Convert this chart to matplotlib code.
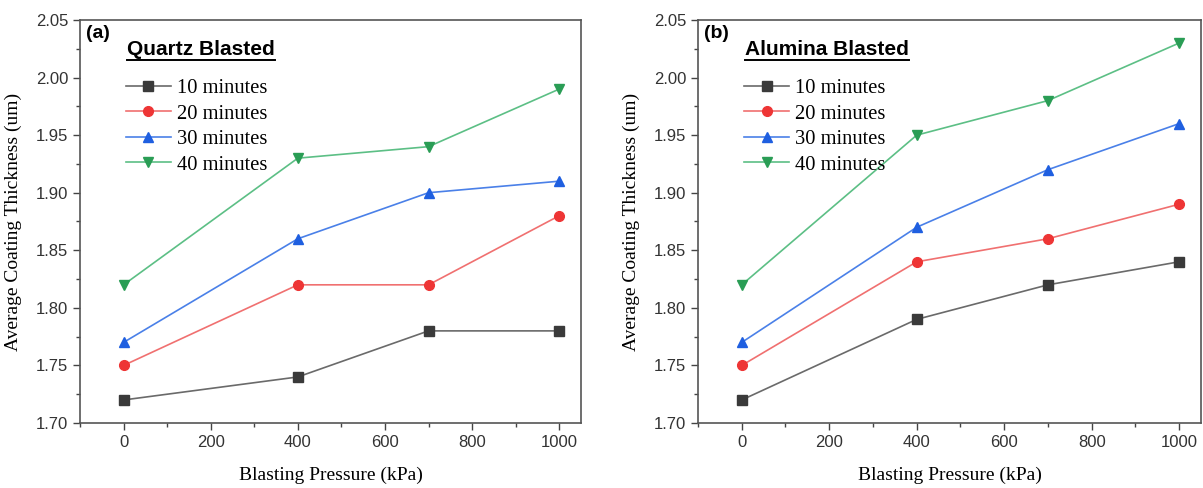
import matplotlib
matplotlib.use("Agg")
import matplotlib.pyplot as plt
from matplotlib.ticker import MultipleLocator

# blasting pressure (kPa)
pressure = [0, 400, 700, 1000]
times = ["10 minutes", "20 minutes", "30 minutes", "40 minutes"]

# average coating thickness (um)
quartz_10 = [1.72, 1.74, 1.78, 1.78]
quartz_20 = [1.75, 1.82, 1.82, 1.88]
quartz_30 = [1.77, 1.86, 1.90, 1.91]
quartz_40 = [1.82, 1.93, 1.94, 1.99]

alumina_10 = [1.72, 1.79, 1.82, 1.84]
alumina_20 = [1.75, 1.84, 1.86, 1.89]
alumina_30 = [1.77, 1.87, 1.92, 1.96]
alumina_40 = [1.82, 1.95, 1.98, 2.03]

marker_cols = ["#3a3a3a", "#ee3535", "#1f5fe0", "#2a9d55"]
line_cols = ["#6a6a6a", "#f07070", "#4a80e8", "#5cbf85"]
markers = ["s", "o", "^", "v"]

sans = "Liberation Sans"
serif = "Liberation Serif"

fig = plt.figure(figsize=(12.03, 4.88), dpi=100)
ax1 = fig.add_axes([80 / 1203, 65 / 488, 501 / 1203, 403 / 488])
ax2 = fig.add_axes([698 / 1203, 65 / 488, 503 / 1203, 403 / 488])


def draw_panel(ax, series, tag, title):
    for vals, name, mc, lc, mk in zip(series, times, marker_cols, line_cols, markers):
        ax.plot(pressure, vals, color=lc, lw=1.2, marker=mk, markersize=7,
                markerfacecolor=mc, markeredgecolor=mc, label=name)
    ax.set_xlim(-100, 1050)
    ax.set_ylim(1.70, 2.05)
    ax.xaxis.set_major_locator(MultipleLocator(200))
    ax.xaxis.set_minor_locator(MultipleLocator(100))
    ax.yaxis.set_major_locator(MultipleLocator(0.05))
    ax.yaxis.set_minor_locator(MultipleLocator(0.025))
    ax.yaxis.set_major_formatter(matplotlib.ticker.FormatStrFormatter("%.2f"))
    ax.tick_params(which="major", direction="out", length=5, width=1,
                   color="#444444", labelcolor="#333333", labelsize=12)
    ax.tick_params(which="minor", direction="out", length=3, width=1, color="#444444")
    for lab in ax.get_xticklabels() + ax.get_yticklabels():
        lab.set_fontfamily(sans)
    for s in ax.spines.values():
        s.set_color("#555555")
        s.set_linewidth(1.2)
    ax.set_xlabel("Blasting Pressure (kPa)", fontfamily=serif, fontsize=14, labelpad=12)
    ax.set_ylabel("Average Coating Thickness (um)", fontfamily=serif, fontsize=14, labelpad=10)
    ax.text(0.012, 0.966, tag, transform=ax.transAxes, fontfamily=sans,
            fontweight="bold", fontsize=14, va="center", ha="left")
    t = ax.text(0.094, 0.928, title, transform=ax.transAxes, fontfamily=sans,
                fontweight="bold", fontsize=15, va="center", ha="left")
    ax.legend(loc="upper left", bbox_to_anchor=(0.075, 0.875), frameon=False,
              prop={"family": serif, "size": 14.8}, handlelength=2.2,
              handletextpad=0.3, labelspacing=0.3, borderaxespad=0)
    return t


t1 = draw_panel(ax1, [quartz_10, quartz_20, quartz_30, quartz_40], "(a)", "Quartz Blasted")
t2 = draw_panel(ax2, [alumina_10, alumina_20, alumina_30, alumina_40], "(b)", "Alumina Blasted")

# underline the panel titles
fig.canvas.draw()
for ax, t in [(ax1, t1), (ax2, t2)]:
    bb = t.get_window_extent().transformed(ax.transAxes.inverted())
    ax.plot([bb.x0, bb.x1], [bb.y0 - 0.003, bb.y0 - 0.003], transform=ax.transAxes,
            color="black", lw=1.4, clip_on=False)

fig.savefig("out.png", dpi=100)
